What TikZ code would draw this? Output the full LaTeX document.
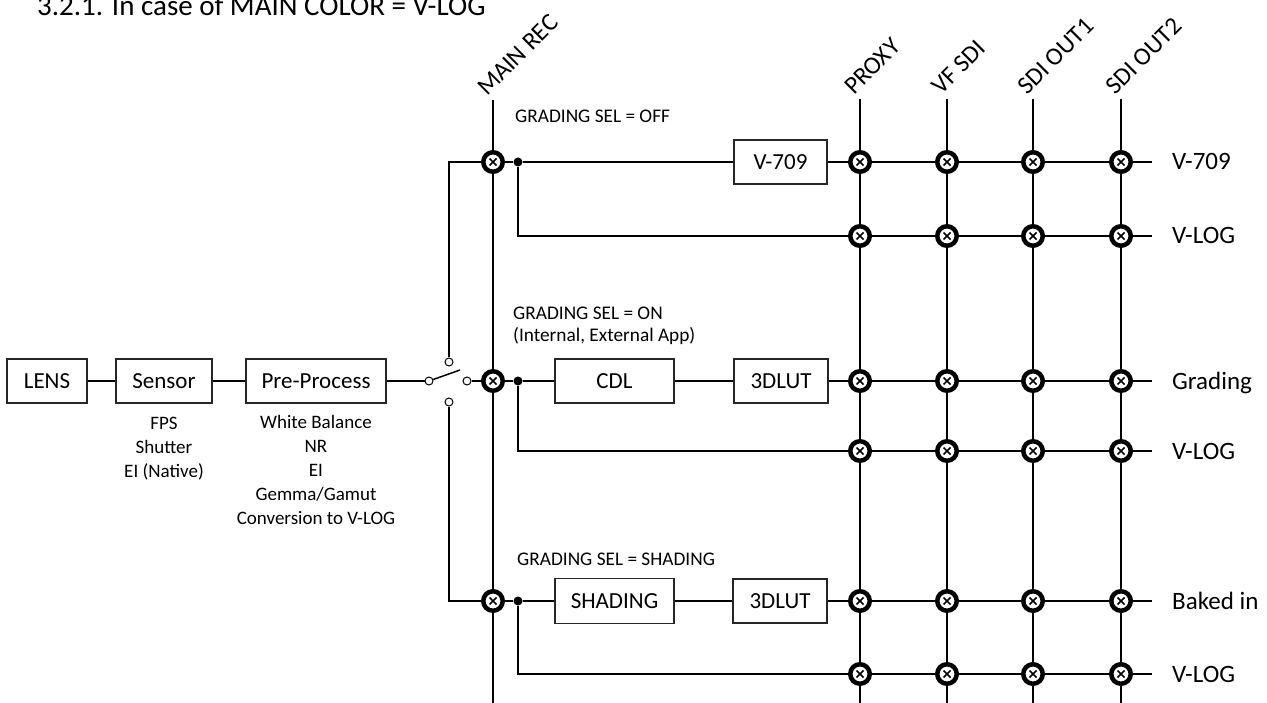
\documentclass[tikz,border=0pt]{standalone}
\usepackage{fontspec}
\setmainfont{Carlito}
\begin{document}
\begin{tikzpicture}[x=1pt,y=-1pt,
  wire/.style={line width=2pt},
  blk/.style={draw=black!85, line width=1.2pt, minimum height=44pt, inner sep=0pt, font=\fontsize{23}{27}\selectfont},
  xc/.style={circle, draw, line width=4.5pt, fill=white, minimum size=19.5pt, inner sep=0pt,
    path picture={\draw[line width=1.7pt]
      ([shift={(-3.5pt,-3.5pt)}]path picture bounding box.center) -- ([shift={(3.5pt,3.5pt)}]path picture bounding box.center)
      ([shift={(-3.5pt,3.5pt)}]path picture bounding box.center) -- ([shift={(3.5pt,-3.5pt)}]path picture bounding box.center);}},
  jdot/.style={circle, fill, inner sep=0pt, minimum size=9pt},
  ct/.style={circle, draw, line width=1pt, fill=white, inner sep=0pt, minimum size=8pt},
  collab/.style={rotate=45, anchor=base west, inner sep=0pt, font=\fontsize{25}{30}\selectfont},
  rlab/.style={anchor=base west, inner sep=0pt, font=\fontsize{25}{30}\selectfont},
  sel/.style={anchor=base west, inner sep=0pt, font=\fontsize{19.3}{23}\selectfont},
  sub/.style={anchor=base, inner sep=0pt, align=center, font=\fontsize{19}{24}\selectfont}
]
\useasboundingbox (0,0) rectangle (1267,703);

% title
\node[anchor=base west, inner sep=0pt, font=\fontsize{29}{34}\selectfont] (title) at (37,15.5) {3.2.1. In case of MAIN COLOR = V-LOG};

% left chain
\node[blk, minimum width=80pt] (lens) at (47,381) {LENS};
\node[blk, minimum width=96pt] (sensor) at (164,381) {Sensor};
\node[blk, minimum width=140pt] (pre) at (316,381) {Pre-Process};
\node[sub] (sensortxt) at (164,477) {FPS\\Shutter\\EI (Native)};
\node[sub] (pretxt) at (316,524) {White Balance\\NR\\EI\\Gemma/Gamut\\Conversion to V-LOG};

% switch
\node[ct] (swP) at (429,381) {};
\node[ct] (swR) at (467,381) {};
\node[ct] (swT) at (449,362) {};
\node[ct] (swB) at (449,402) {};
\coordinate (blade) at (460,370);

% main rec column
\coordinate (mrtop) at (493,100);
\coordinate (mrbot) at (493,703);
\node[xc] (mrA) at (493,162) {};
\node[xc] (mrC) at (493,381) {};
\node[xc] (mrE) at (493,601) {};

% junction dots
\node[jdot] (dA) at (518,162) {};
\node[jdot] (dC) at (518,381) {};
\node[jdot] (dE) at (518,601) {};

% processing boxes
\node[blk, minimum width=93pt] (b709) at (780.5,162) {V-709};
\node[blk, minimum width=119pt] (cdl) at (614.5,381) {CDL};
\node[blk, minimum width=94pt] (lutC) at (781,381) {3DLUT};
\node[blk, minimum width=119pt, minimum height=45pt] (shd) at (614.5,601) {SHADING};
\node[blk, minimum width=94pt] (lutE) at (780,601) {3DLUT};

% output matrix
\foreach \c/\cx in {p/860,v/947,s/1033,t/1121}{
  \coordinate (\c top) at (\cx,99);
  \coordinate (\c bot) at (\cx,703);
  \foreach \r/\ry in {A/162,B/236,C/381,D/451,E/601,F/674}{
    \node[xc] (\c\r) at (\cx,\ry) {};
  }
  \draw[wire] (\c top) -- (\c A) -- (\c B) -- (\c C) -- (\c D) -- (\c E) -- (\c F) -- (\c bot);
}
\foreach \r/\ry in {A/162,B/236,C/381,D/451,E/601,F/674}{
  \coordinate (end\r) at (1152,\ry);
  \draw[wire] (p\r) -- (v\r) -- (s\r) -- (t\r) -- (end\r);
}

% wiring
\draw[wire] (lens) -- (sensor) -- (pre) -- (swP);
\draw[line width=1.5pt] (swP) -- (blade);
\draw[wire] (swR) -- (mrC);
\draw[wire] (mrtop) -- (mrA) -- (mrC) -- (mrE) -- (mrbot);
\draw[wire] (swT) |- (mrA);
\draw[wire] (swB) |- (mrE);
\draw[wire] (mrA) -- (dA) -- (b709) -- (pA);
\draw[wire] (dA) |- (pB);
\draw[wire] (mrC) -- (dC) -- (cdl) -- (lutC) -- (pC);
\draw[wire] (dC) |- (pD);
\draw[wire] (mrE) -- (dE) -- (shd) -- (lutE) -- (pE);
\draw[wire] (dE) |- (pF);

% column labels
\node[collab] (lmr) at (487,97) {MAIN REC};
\node[collab] (lpx) at (854,96) {PROXY};
\node[collab] (lvf) at (941,96) {VF SDI};
\node[collab] (lo1) at (1027,96) {SDI OUT1};
\node[collab] (lo2) at (1115,96) {SDI OUT2};

% row labels
\node[rlab] (rA) at (1172,170) {V-709};
\node[rlab] (rB) at (1172,244) {V-LOG};
\node[rlab] (rC) at (1172,389) {Grading};
\node[rlab] (rD) at (1172,459) {V-LOG};
\node[rlab] (rE) at (1172,609) {Baked in};
\node[rlab] (rF) at (1172,682) {V-LOG};

% selection labels
\node[sel] (selA) at (515,123) {GRADING SEL = OFF};
\node[sel] (selC1) at (513,320) {GRADING SEL = ON};
\node[sel] (selC2) at (513,342) {(Internal, External App)};
\node[sel] (selE) at (517,565) {GRADING SEL = SHADING};
\end{tikzpicture}
\end{document}
